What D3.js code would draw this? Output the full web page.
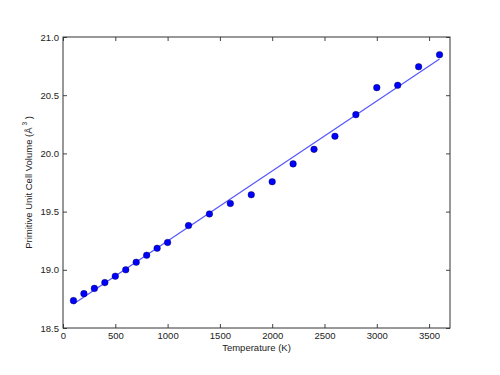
<!DOCTYPE html>
<html>
<head>
<meta charset="utf-8">
<script src="https://cdn.jsdelivr.net/npm/d3@7"></script>
<style>
  body { margin: 0; background: #fff; }
  svg text { font-family: "Liberation Sans", Arial, sans-serif; fill: #222; }
</style>
</head>
<body>
<div id="grafico"></div>
<script>
// data
const temperatures = [100, 200, 300, 400, 500, 600, 700, 800, 900, 1000, 1200, 1400, 1600, 1800, 2000, 2200, 2400, 2600, 2800, 3000, 3200, 3400, 3600];
const volumes = [18.735, 18.795, 18.84, 18.89, 18.945, 19.0, 19.065, 19.125, 19.185, 19.235, 19.38, 19.48, 19.57, 19.645, 19.757, 19.91, 20.035, 20.147, 20.333, 20.565, 20.585, 20.745, 20.848];
// linear fit (endpoints)
const fitTemps = [100, 3600];
const fitVolumes = [18.706, 20.81];
const xTicks = [0, 500, 1000, 1500, 2000, 2500, 3000, 3500];
const yTicks = [18.5, 19.0, 19.5, 20.0, 20.5, 21.0];

// sizes
const W = 500, H = 375;
const margin = { top: 37, right: 50, bottom: 47, left: 63 };
const width = W - margin.left - margin.right;
const height = H - margin.top - margin.bottom;

const svg = d3.select("#grafico")
  .append("svg")
    .attr("width", W)
    .attr("height", H);

const g = svg.append("g")
  .attr("transform", `translate(${margin.left},${margin.top})`);

const x = d3.scaleLinear().domain([0, 3700]).range([0, width]);
const y = d3.scaleLinear().domain([18.5, 21.0]).range([height, 0]);

// fit line
const fit = fitTemps.map((t, i) => [t, fitVolumes[i]]);
g.append("path")
  .datum(fit)
  .attr("fill", "none")
  .attr("stroke", "#5555ff")
  .attr("stroke-width", 1.2)
  .attr("d", d3.line().x(d => x(d[0])).y(d => y(d[1])));

// points
const pts = temperatures.map((t, i) => ({ t, v: volumes[i] }));
g.append("g")
  .selectAll("circle")
  .data(pts)
  .join("circle")
    .attr("cx", d => x(d.t))
    .attr("cy", d => y(d.v))
    .attr("r", 3.3)
    .attr("fill", "#0000ff")
    .attr("stroke", "#000033")
    .attr("stroke-width", 0.4);

// axes (ticks inside, on all sides)
function styleAxis(sel) {
  sel.select(".domain").remove();
  sel.selectAll(".tick line").attr("stroke", "#444");
  sel.selectAll("text").attr("font-size", "9.5px").attr("fill", "#222")
    .attr("font-family", "Liberation Sans, Arial, sans-serif");
}
g.append("g")
  .attr("transform", `translate(0,${height})`)
  .call(d3.axisBottom(x).tickValues(xTicks).tickSizeInner(-4).tickSizeOuter(0).tickPadding(4).tickFormat(d3.format("d")))
  .call(styleAxis);
g.append("g")
  .call(d3.axisTop(x).tickValues(xTicks).tickSizeInner(-4).tickSizeOuter(0).tickFormat(""))
  .call(styleAxis);
g.append("g")
  .call(d3.axisLeft(y).tickValues(yTicks).tickSizeInner(-4).tickSizeOuter(0).tickPadding(4).tickFormat(d3.format(".1f")))
  .call(styleAxis);
g.append("g")
  .attr("transform", `translate(${width},0)`)
  .call(d3.axisRight(y).tickValues(yTicks).tickSizeInner(-4).tickSizeOuter(0).tickFormat(""))
  .call(styleAxis);

// frame
g.append("rect")
  .attr("width", width)
  .attr("height", height)
  .attr("fill", "none")
  .attr("stroke", "#333")
  .attr("stroke-width", 1);

// labels
svg.append("text")
  .attr("x", margin.left + width / 2)
  .attr("y", 351)
  .attr("text-anchor", "middle")
  .attr("font-size", "9.5px")
  .text("Temperature (K)");

const yl = svg.append("text")
  .attr("transform", `translate(32,${margin.top + height / 2}) rotate(-90)`)
  .attr("text-anchor", "middle")
  .attr("font-size", "9.5px");
yl.append("tspan").text("Primitive Unit Cell Volume (Å");
yl.append("tspan").attr("font-size", "6.5px").attr("dy", "-5").text(" 3");
yl.append("tspan").attr("dy", "5").text(" )");
</script>
</body>
</html>
